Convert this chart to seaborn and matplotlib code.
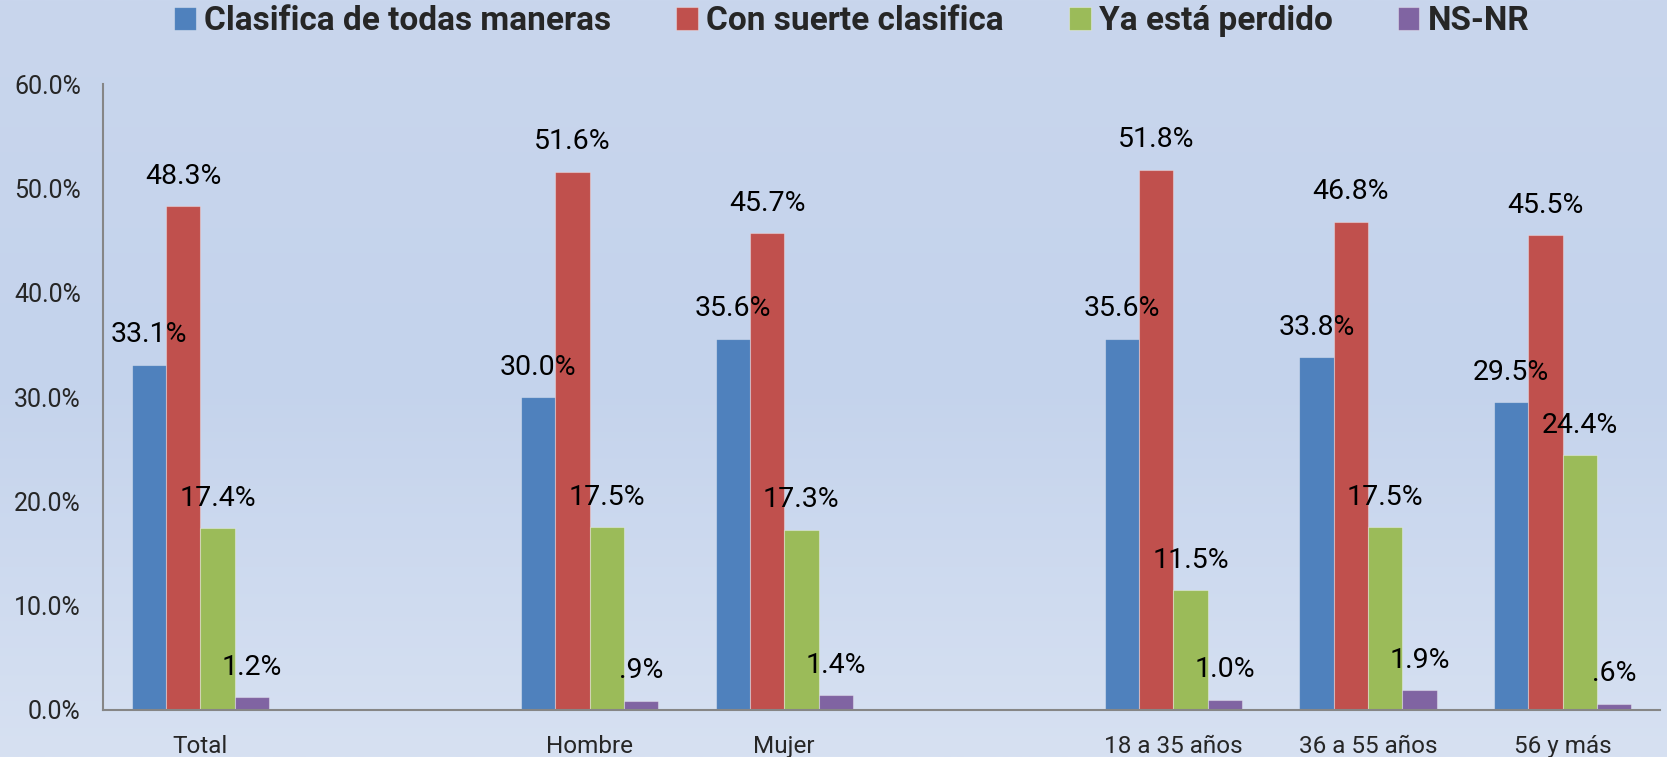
import numpy as np
import pandas as pd
import matplotlib
matplotlib.use('Agg')
import matplotlib.pyplot as plt
import seaborn as sns
from matplotlib.colors import LinearSegmentedColormap

# categories (blank ones are the gaps between the groups)
categories = ['Total', '', 'Hombre', 'Mujer', ' ', '18 a 35 años', '36 a 55 años', '56 y más']
series = ['Clasifica de todas maneras', 'Con suerte clasifica', 'Ya está perdido', 'NS-NR']
colors = ['#4F81BD', '#C0504D', '#9BBB59', '#8064A2']

clasifica = [33.1, 30.0, 35.6, 35.6, 33.8, 29.5]
con_suerte = [48.3, 51.6, 45.7, 51.8, 46.8, 45.5]
perdido = [17.4, 17.5, 17.3, 11.5, 17.5, 24.4]
nsnr = [1.2, 0.9, 1.4, 1.0, 1.9, 0.6]
groups = ['Total', 'Hombre', 'Mujer', '18 a 35 años', '36 a 55 años', '56 y más']

rows = []
for name, vals in zip(series, [clasifica, con_suerte, perdido, nsnr]):
    for g, v in zip(groups, vals):
        rows.append({'grupo': g, 'serie': name, 'valor': v})
df = pd.DataFrame(rows)

sns.set_style('white')
plt.rcParams['font.family'] = ['Roboto', 'DejaVu Sans']

fig = plt.figure(figsize=(16.67, 7.57), dpi=100)

# gradient background
bg = fig.add_axes([0, 0, 1, 1], zorder=-2)
cmap = LinearSegmentedColormap.from_list('bg', ['#c9d6ed', '#c4d3ec', '#d7e1f2'])
bg.imshow(np.linspace(0, 1, 256).reshape(-1, 1), aspect='auto', cmap=cmap, extent=[0, 1, 0, 1])
bg.axis('off')

ax = fig.add_axes([0.0618, 0.0621, 0.9340, 0.8269])
ax.patch.set_alpha(0)

sns.barplot(data=df, x='grupo', y='valor', hue='serie', order=categories,
            hue_order=series, palette=colors, saturation=1, width=0.705, ax=ax,
            edgecolor=(1, 1, 1, 0.35), linewidth=0.8, errorbar=None)

def fmt(v):
    s = f'{v:.1f}%'
    return s[1:] if s.startswith('0') else s

for cont in ax.containers:
    for bar in cont:
        h = bar.get_height()
        if np.isnan(h):
            continue
        ax.annotate(fmt(h), (bar.get_x() + bar.get_width() / 2, h),
                    xytext=(0, 21.5), textcoords='offset points',
                    ha='center', va='center', fontsize=20.5, color='black')

ax.set_ylim(0, 60)
ax.set_xlim(-0.5, len(categories) - 0.5)
ax.set_yticks(np.arange(0, 61, 10))
ax.yaxis.set_major_formatter(plt.FuncFormatter(lambda v, p: f'{v:.1f}%'))
ax.set_xticks(np.arange(-0.5, len(categories), 1), minor=True)
ax.tick_params(axis='x', which='major', length=0, pad=18, labelsize=17.5)
ax.tick_params(axis='x', which='minor', length=8, width=1.5, color='#868686', direction='out')
ax.tick_params(axis='y', length=7, width=1.5, color='#868686', direction='out', pad=9, labelsize=18)
ax.set_xlabel('')
ax.set_ylabel('')
for s in ['top', 'right']:
    ax.spines[s].set_visible(False)
for s in ['left', 'bottom']:
    ax.spines[s].set_color('#868686')
    ax.spines[s].set_linewidth(1.5)

handles, labels = ax.get_legend_handles_labels()
ax.get_legend().remove()
fig.legend(handles, labels, loc='center', bbox_to_anchor=(0.511, 0.972), ncol=4,
           frameon=False, prop={'weight': 'bold', 'size': 24},
           handlelength=0.65, handleheight=0.65, handletextpad=0.25, columnspacing=1.95)

fig.savefig('out.png', dpi=100)
